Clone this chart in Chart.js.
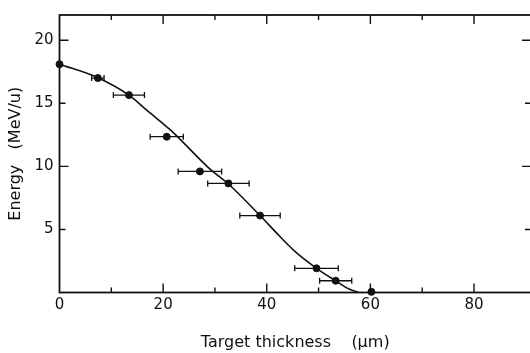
<!DOCTYPE html>
<html>
<head>
<meta charset="utf-8">
<script src="https://cdn.jsdelivr.net/npm/chart.js@4/dist/chart.umd.min.js"></script>
<style>
  html, body { margin: 0; padding: 0; background: #fff; overflow: hidden; }
</style>
</head>
<body>
<canvas id="chart" width="540" height="353"></canvas>
<script>
// measured points (target thickness in µm, energy in MeV/u)
const thickness = [0, 7.4, 13.4, 20.7, 27.1, 32.6, 38.7, 49.6, 53.3, 60.2];
const energy = [18.1, 17.0, 15.65, 12.35, 9.6, 8.65, 6.1, 1.92, 0.93, 0.05];
const thicknessErr = [0, 1.2, 3.0, 3.2, 4.2, 4.0, 3.9, 4.2, 3.1, 0];

// fitted curve
const curveX = [0, 7.3, 13.4, 17, 21.5, 29, 32.6, 38.7, 42.4, 45.6, 49.6, 53.3, 56, 57.8];
const curveY = [18.1, 17.05, 15.65, 14.4, 12.85, 9.8, 8.6, 6.1, 4.5, 3.2, 1.92, 0.93, 0.25, 0];

// tick positions
const xTicks = [10, 20, 30, 40, 50, 60, 70, 80];
const yTicks = [5, 10, 15, 20];

const font = "'DejaVu Sans', sans-serif";

const frameTicks = {
    id: 'frameTicks',
    beforeDatasetsDraw(chart) {
        const ctx = chart.ctx, a = chart.chartArea;
        const x = chart.scales.x, y = chart.scales.y;
        ctx.save();
        ctx.strokeStyle = '#111';
        ctx.lineWidth = 1.8;
        ctx.strokeRect(a.left, a.top, a.right - a.left, a.bottom - a.top);
        ctx.lineWidth = 1.4;
        ctx.beginPath();
        xTicks.forEach(v => {
            const px = x.getPixelForValue(v);
            const len = v % 20 === 0 ? 9 : 5;
            ctx.moveTo(px, a.bottom); ctx.lineTo(px, a.bottom - len);
            ctx.moveTo(px, a.top); ctx.lineTo(px, a.top + len);
        });
        yTicks.forEach(v => {
            const py = y.getPixelForValue(v);
            const len = v % 10 === 0 ? 9 : 6;
            ctx.moveTo(a.left, py); ctx.lineTo(a.left + len, py);
            ctx.moveTo(a.right, py); ctx.lineTo(a.right - len, py);
        });
        ctx.stroke();

        // horizontal error bars
        ctx.lineWidth = 1.3;
        ctx.beginPath();
        thickness.forEach((t, i) => {
            const e = thicknessErr[i];
            if (!e) return;
            const x0 = x.getPixelForValue(t - e), x1 = x.getPixelForValue(t + e);
            const py = y.getPixelForValue(energy[i]);
            ctx.moveTo(x0, py); ctx.lineTo(x1, py);
            ctx.moveTo(x0, py - 3); ctx.lineTo(x0, py + 3);
            ctx.moveTo(x1, py - 3); ctx.lineTo(x1, py + 3);
        });
        ctx.stroke();
        ctx.restore();
    }
};

new Chart(document.getElementById('chart'), {
    type: 'scatter',
    data: {
        datasets: [{
            type: 'line',
            data: curveX.map((v, i) => ({x: v, y: curveY[i]})),
            borderColor: '#111',
            borderWidth: 1.6,
            pointRadius: 0,
            cubicInterpolationMode: 'monotone',
            fill: false
        },
        {
            data: thickness.map((v, i) => ({x: v, y: energy[i]})),
            backgroundColor: '#111',
            borderColor: '#111',
            pointRadius: 3.5,
            clip: false
        }]
    },
    options: {
        responsive: false,
        animation: false,
        layout: {padding: {top: 12, right: 9, left: 0, bottom: 0}},
        scales: {
            x: {
                type: 'linear',
                min: 0,
                max: 91,
                afterFit: s => { s.height = 60.5; },
                grid: {display: false, drawTicks: false},
                border: {display: false},
                ticks: {
                    stepSize: 10,
                    includeBounds: false,
                    padding: 4,
                    maxRotation: 0,
                    autoSkip: false,
                    color: '#111',
                    font: {family: font, size: 15},
                    callback: v => v % 20 === 0 ? String(v) : ''
                },
                title: {
                    display: true,
                    text: 'Target thickness    (\u03bcm)',
                    color: '#111',
                    font: {family: font, size: 16},
                    padding: {top: 0, bottom: 1}
                }
            },
            y: {
                min: 0,
                max: 22,
                afterFit: s => { s.width = 59.5; },
                grid: {display: false, drawTicks: false},
                border: {display: false},
                ticks: {
                    stepSize: 5,
                    includeBounds: false,
                    padding: 6,
                    color: '#111',
                    font: {family: font, size: 15},
                    callback: v => v === 0 ? '' : String(v)
                },
                title: {
                    display: true,
                    text: 'Energy   (MeV/u)',
                    color: '#111',
                    font: {family: font, size: 16},
                    padding: {top: 6, bottom: 0}
                }
            }
        },
        plugins: {
            legend: {display: false},
            tooltip: {enabled: false}
        }
    },
    plugins: [frameTicks]
});
</script>
</body>
</html>
